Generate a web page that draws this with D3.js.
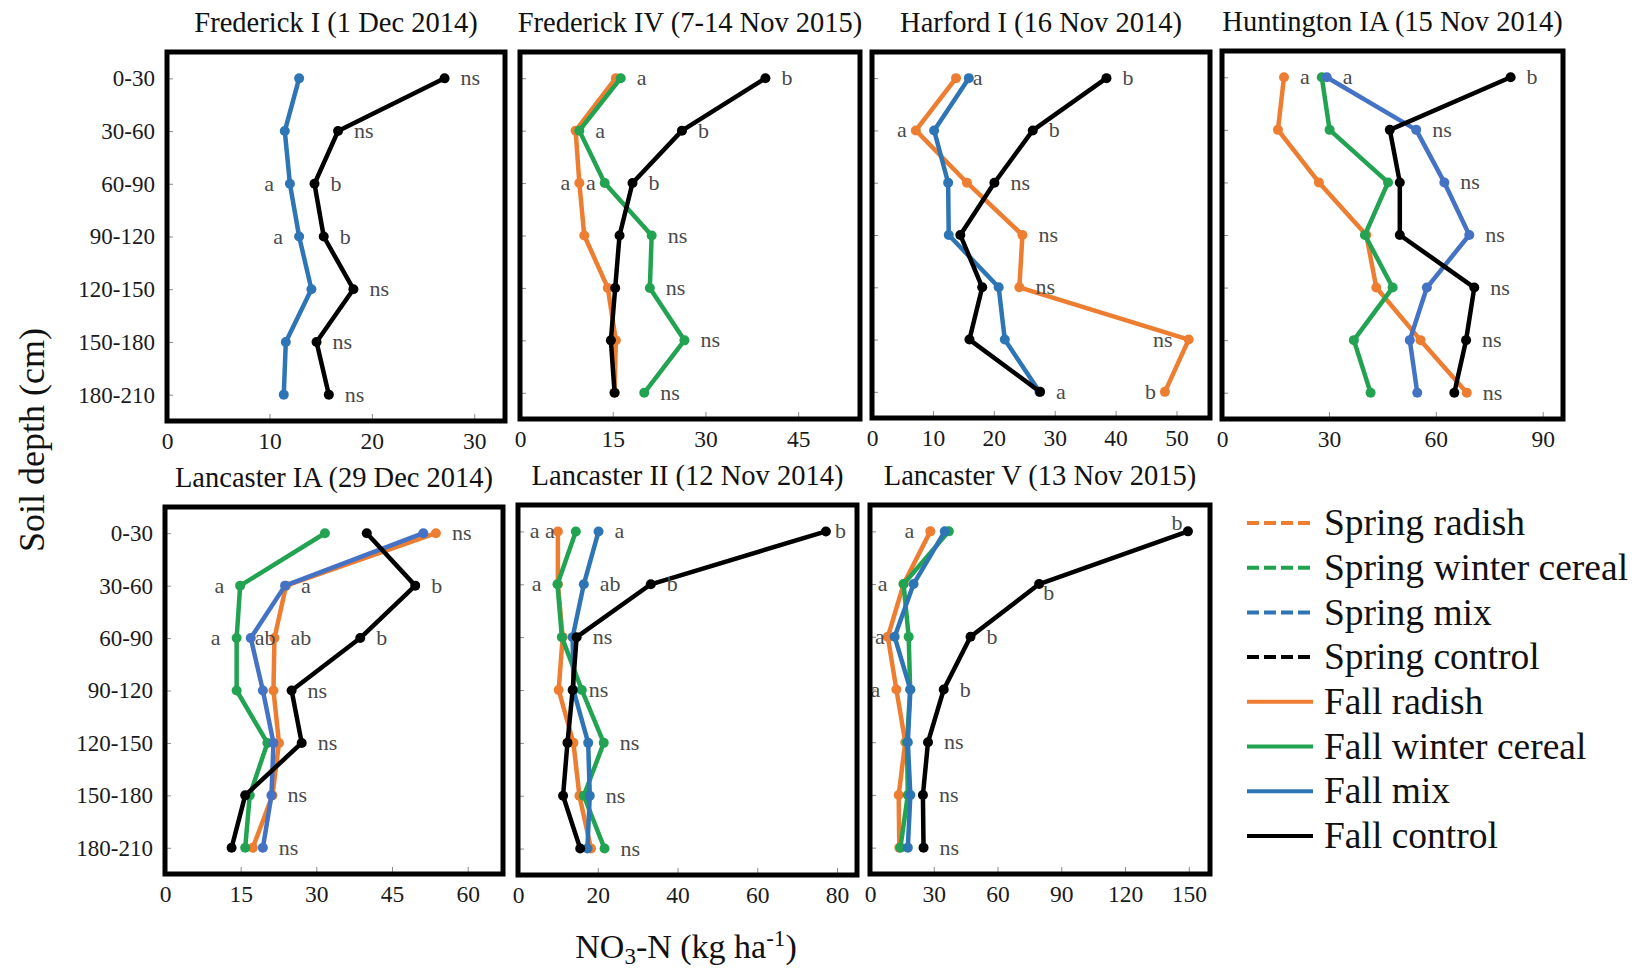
<!DOCTYPE html>
<html>
<head>
<meta charset="utf-8">
<script src="https://cdn.jsdelivr.net/npm/d3@7"></script>
<style>
  body { margin: 0; background: #fff; }
  text { font-family: "Liberation Serif", "Times New Roman", serif; }
</style>
</head>
<body>
<script>
// depth classes (cm), shared by every panel
var depths = ["0-30", "30-60", "60-90", "90-120", "120-150", "150-180", "180-210"];
var legendNames = ["Spring radish", "Spring winter cereal", "Spring mix", "Spring control",
                   "Fall radish", "Fall winter cereal", "Fall mix", "Fall control"];

// Frederick I
var fredIMix     = [12.9, 11.5, 12.0, 12.9, 14.1, 11.6, 11.4];
var fredIControl = [27.1, 16.7, 14.4, 15.3, 18.2, 14.6, 15.8];
var fredITicks   = [0, 10, 20, 30];

// Frederick IV
var fredIVRadish  = [15.5, 9.0, 9.6, 10.4, 14.2, 15.5, 15.3];
var fredIVCereal  = [16.3, 9.6, 13.7, 21.3, 21.0, 26.6, 20.1];
var fredIVControl = [39.7, 26.2, 18.2, 16.1, 15.4, 14.7, 15.3];
var fredIVTicks   = [0, 15, 30, 45];

// Harford I
var harfRadish  = [13.8, 7.2, 15.6, 24.7, 24.2, 52.0, 48.1];
var harfMix     = [15.9, 10.2, 12.5, 12.6, 20.8, 21.8, 27.5];
var harfControl = [38.5, 26.4, 20.1, 14.5, 18.1, 16.0, 27.6];
var harfTicks   = [0, 10, 20, 30, 40, 50];

// Huntington IA
var huntRadish  = [17.4, 15.7, 27.2, 40.5, 43.3, 55.7, 68.7];
var huntCereal  = [28.0, 30.2, 46.6, 40.1, 47.9, 37.0, 41.7];
var huntMix     = [29.4, 54.5, 62.4, 69.4, 57.5, 52.7, 54.8];
var huntControl = [81.0, 47.1, 49.9, 49.9, 70.8, 68.5, 65.2];
var huntTicks   = [0, 30, 60, 90];

// Lancaster IA
var lancIARadish  = [53.7, 24.0, 21.7, 21.5, 22.6, 21.3, 17.4];
var lancIACereal  = [31.7, 14.9, 14.2, 14.2, 20.3, 16.8, 15.9];
var lancIAMix     = [51.2, 23.8, 17.0, 19.4, 21.5, 21.1, 19.4];
var lancIAControl = [40.0, 49.6, 38.7, 25.1, 27.1, 15.9, 13.2];
var lancIATicks   = [0, 15, 30, 45, 60];

// Lancaster II
var lancIIRadish  = [10.0, 10.0, 11.2, 10.2, 13.9, 15.4, 18.3];
var lancIICereal  = [14.5, 9.9, 11.0, 16.0, 21.5, 16.5, 21.7];
var lancIIMix     = [20.2, 16.5, 13.7, 13.9, 17.6, 18.0, 17.4];
var lancIIControl = [77.2, 33.3, 14.7, 13.7, 12.4, 11.3, 15.6];
var lancIITicks   = [0, 20, 40, 60, 80];

// Lancaster V
var lancVRadish  = [28.4, 15.8, 8.4, 12.4, 16.6, 13.5, 13.8];
var lancVCereal  = [37.1, 15.8, 18.2, 18.9, 17.4, 17.8, 14.3];
var lancVMix     = [35.2, 20.5, 11.6, 19.0, 17.8, 19.0, 17.8];
var lancVControl = [149.6, 79.6, 47.3, 34.7, 27.3, 24.9, 25.2];
var lancVTicks   = [0, 30, 60, 90, 120, 150];

// significance letters: [series, depth index, letter, side]
var fredILetters = [["control",0,"ns","r"],["control",1,"ns","r"],["control",2,"b","r"],["control",3,"b","r"],
  ["control",4,"ns","r"],["control",5,"ns","r"],["control",6,"ns","r"],["mix",2,"a","l"],["mix",3,"a","l"]];
var fredIVLetters = [["cereal",0,"a","r"],["cereal",1,"a","r"],["cereal",2,"a","l2"],["radish",2,"a","l2"],
  ["cereal",3,"ns","r"],["cereal",4,"ns","r"],["cereal",5,"ns","r"],["cereal",6,"ns","r"],
  ["control",0,"b","r"],["control",1,"b","r"],["control",2,"b","r"]];
var harfLetters = [["mix",0,"a","r0"],["control",0,"b","r"],["radish",1,"a","l2"],["control",1,"b","r"],
  ["control",2,"ns","r"],["radish",3,"ns","r"],["radish",4,"ns","r"],["radish",5,"ns","l"],
  ["control",6,"a","r"],["radish",6,"b","l2"]];
var huntLetters = [["radish",0,"a","r"],["mix",0,"a","r"],["control",0,"b","r"],["mix",1,"ns","r"],
  ["mix",2,"ns","r"],["mix",3,"ns","r"],["control",4,"ns","r"],["control",5,"ns","r"],["radish",6,"ns","r"]];
var lancIALetters = [["radish",0,"ns","r"],["cereal",1,"a","l"],["mix",1,"a","r"],["control",1,"b","r"],
  ["cereal",2,"a","l"],["mix",2,"ab","r0"],["radish",2,"ab","r"],["control",2,"b","r"],
  ["control",3,"ns","r"],["control",4,"ns","r"],["mix",5,"ns","r"],["mix",6,"ns","r"]];
var lancIILetters = [["radish",0,"a a","l0"],["mix",0,"a","r"],["control",0,"b","r2"],
  ["cereal",1,"a","l"],["mix",1,"ab","r"],["control",1,"b","r"],["control",2,"ns","r"],
  ["control",3,"ns","r"],["cereal",4,"ns","r"],["mix",5,"ns","r"],["cereal",6,"ns","r"]];
var lancVLetters = [["radish",0,"a","l"],["control",0,"b","tl"],["radish",1,"a","l"],["control",1,"b","br"],
  ["radish",2,"a","l0"],["control",2,"b","r"],["radish",3,"a","l"],["control",3,"b","r"],
  ["control",4,"ns","r"],["control",5,"ns","r"],["control",6,"ns","r"]];

var seriesOrder = ["radish", "cereal", "mix", "control"];
var colors = { radish: "#ed7d31", cereal: "#22a352", mix: "#2e75b6", control: "#000000" };

var panels = [
  { title: "Frederick I (1 Dec 2014)", box: [167, 52, 505, 421], xMax: 33, ticks: fredITicks,
    series: { mix: fredIMix, control: fredIControl }, letters: fredILetters, yLabels: true },
  { title: "Frederick IV (7-14 Nov 2015)", box: [520, 52, 860, 419], xMax: 55, ticks: fredIVTicks,
    series: { radish: fredIVRadish, cereal: fredIVCereal, control: fredIVControl }, letters: fredIVLetters },
  { title: "Harford I (16 Nov 2014)", box: [872, 52, 1210, 418], xMax: 55.5, ticks: harfTicks,
    series: { radish: harfRadish, mix: harfMix, control: harfControl }, letters: harfLetters },
  { title: "Huntington IA (15 Nov 2014)", box: [1222, 51, 1563, 419], xMax: 95.7, ticks: huntTicks,
    series: { radish: huntRadish, cereal: huntCereal, mix: huntMix, control: huntControl }, letters: huntLetters, mixColor: "#4472c4" },
  { title: "Lancaster IA (29 Dec 2014)", box: [165, 507, 503, 874], xMax: 67, ticks: lancIATicks,
    series: { radish: lancIARadish, cereal: lancIACereal, mix: lancIAMix, control: lancIAControl }, letters: lancIALetters, yLabels: true, mixColor: "#4472c4" },
  { title: "Lancaster II (12 Nov 2014)", box: [518, 505, 857, 875], xMax: 85, ticks: lancIITicks,
    series: { radish: lancIIRadish, cereal: lancIICereal, mix: lancIIMix, control: lancIIControl }, letters: lancIILetters },
  { title: "Lancaster V (13 Nov 2015)", box: [870, 505, 1210, 874], xMax: 160, ticks: lancVTicks,
    series: { radish: lancVRadish, cereal: lancVCereal, mix: lancVMix, control: lancVControl }, letters: lancVLetters }
];

var svg = d3.select("body").append("svg")
  .attr("width", 1638)
  .attr("height", 972);

var serif = "'Liberation Serif', 'Times New Roman', serif";

panels.forEach(function(p) {
  var g = svg.append("g");
  var x = d3.scaleLinear().domain([0, p.xMax]).range([p.box[0], p.box[2]]);
  var y = d3.scalePoint().domain(depths).range([p.box[1], p.box[3]]).padding(0.5);

  // x axis: small ticks pointing inward, labels under the frame
  var xa = g.append("g")
    .attr("transform", "translate(0," + p.box[3] + ")")
    .call(d3.axisBottom(x).tickValues(p.ticks).tickSize(-7).tickPadding(11).tickFormat(d3.format("d")));
  xa.select(".domain").remove();
  xa.selectAll("line").attr("stroke", "#8a8a8a");
  xa.selectAll("text").attr("font-size", 23.5).attr("font-family", serif).attr("fill", "#1a1a1a");

  var ya = g.append("g")
    .attr("transform", "translate(" + p.box[0] + ",0)")
    .call(d3.axisLeft(y).tickSize(-6).tickPadding(12));
  ya.select(".domain").remove();
  ya.selectAll("line").attr("stroke", "#8a8a8a");
  ya.selectAll("text").attr("font-size", 23).attr("font-family", serif).attr("fill", "#1a1a1a");
  if (!p.yLabels) ya.selectAll("text").remove();

  var line = d3.line()
    .x(function(d) { return x(d); })
    .y(function(d, i) { return y(depths[i]); });

  seriesOrder.forEach(function(k) {
    var vals = p.series[k];
    if (!vals) return;
    var col = (k === "mix" && p.mixColor) ? p.mixColor : colors[k];
    g.append("path")
      .datum(vals)
      .attr("d", line)
      .attr("fill", "none")
      .attr("stroke", col)
      .attr("stroke-width", 4.5)
      .attr("stroke-linejoin", "round");
    g.selectAll(null)
      .data(vals)
      .enter().append("circle")
      .attr("cx", function(d) { return x(d); })
      .attr("cy", function(d, i) { return y(depths[i]); })
      .attr("r", 5)
      .attr("fill", col);
  });

  // significance letters
  var gaps = { r: 16, r2: 9, r0: 4, l: 16, l2: 9, l0: 3 };
  p.letters.forEach(function(L) {
    var px = x(p.series[L[0]][L[1]]);
    var py = y(depths[L[1]]);
    var side = L[3];
    var t = g.append("text")
      .attr("font-size", 22)
      .attr("fill", "#4a4a4a")
      .attr("dy", "0.32em")
      .text(L[2]);
    if (side === "tl") {
      t.attr("x", px - 11).attr("y", py - 8).attr("text-anchor", "middle");
    } else if (side === "br") {
      t.attr("x", px + 4).attr("y", py + 9).attr("text-anchor", "start");
    } else if (side.charAt(0) === "r") {
      t.attr("x", px + gaps[side]).attr("y", py).attr("text-anchor", "start");
    } else {
      t.attr("x", px - gaps[side]).attr("y", py).attr("text-anchor", "end");
    }
  });

  // frame
  g.append("rect")
    .attr("x", p.box[0])
    .attr("y", p.box[1])
    .attr("width", p.box[2] - p.box[0])
    .attr("height", p.box[3] - p.box[1])
    .attr("fill", "none")
    .attr("stroke", "#000")
    .attr("stroke-width", 5);

  g.append("text")
    .attr("x", (p.box[0] + p.box[2]) / 2)
    .attr("y", p.box[1] - 20)
    .attr("text-anchor", "middle")
    .attr("font-size", 28.5)
    .attr("fill", "#111")
    .text(p.title);
});

// legend
var legendColors = ["#ed7d31", "#22a352", "#2e75b6", "#000000", "#ed7d31", "#22a352", "#2e75b6", "#000000"];
var legend = svg.append("g");
legendNames.forEach(function(name, i) {
  var ly = 522 + i * 44.7;
  legend.append("line")
    .attr("x1", 1247).attr("x2", 1313)
    .attr("y1", ly + 1).attr("y2", ly + 1)
    .attr("stroke", legendColors[i])
    .attr("stroke-width", 4)
    .attr("stroke-dasharray", i < 4 ? "12,5" : null);
  legend.append("text")
    .attr("x", 1324)
    .attr("y", ly)
    .attr("dy", "0.35em")
    .attr("font-size", 37.5)
    .attr("fill", "#111")
    .text(name);
});

// axis titles
svg.append("text")
  .attr("transform", "translate(44,440) rotate(-90)")
  .attr("text-anchor", "middle")
  .attr("font-size", 36)
  .attr("fill", "#111")
  .text("Soil depth (cm)");

var xt = svg.append("text")
  .attr("x", 686)
  .attr("y", 958)
  .attr("text-anchor", "middle")
  .attr("font-size", 34)
  .attr("fill", "#111");
xt.append("tspan").text("NO");
xt.append("tspan").attr("font-size", 23).attr("dy", 6).text("3");
xt.append("tspan").attr("dy", -6).text("-N (kg ha");
xt.append("tspan").attr("font-size", 23).attr("dy", -12).text("-1");
xt.append("tspan").attr("dy", 12).text(")");
</script>
</body>
</html>
